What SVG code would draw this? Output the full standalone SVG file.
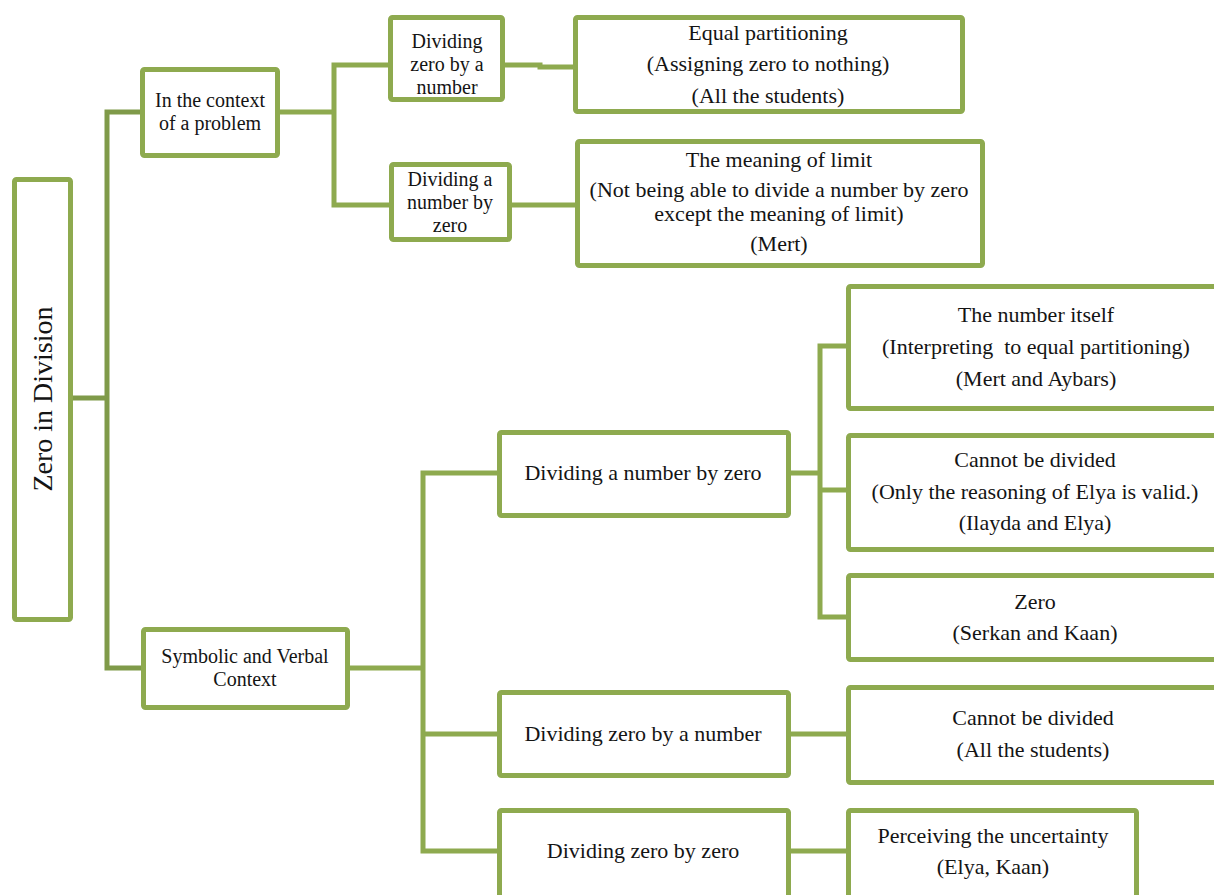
<svg xmlns="http://www.w3.org/2000/svg" width="1214" height="895" viewBox="0 0 1214 895">
  <style>
    .box { fill: #ffffff; stroke: #8eaa4f; stroke-width: 5; }
    .wire { fill: none; stroke: #8eaa4f; stroke-width: 5; stroke-linejoin: miter; }
    .trunk { fill: none; stroke: #7f9a49; stroke-width: 5; }
    text { font-family: "Liberation Serif", "Times New Roman", serif; font-size: 22px; fill: #141414; text-anchor: middle; }
    .root { font-size: 28px; }
    .tight { font-size: 20px; }
    .pre { white-space: pre; }
  </style>
  <rect width="1214" height="895" fill="#ffffff"/>

  <!-- connectors -->
  <g id="connectors">
    <path class="trunk" d="M73 398 H107 M140 112 H107 V668 H141"/>
    <path class="wire" d="M280 112 H334 M390 65 H334 V205 H389"/>
    <path class="wire" d="M505 65 H540 V67 H573"/>
    <path class="wire" d="M512 205 H575"/>
    <path class="wire" d="M350 668 H423 M497 473 H423 V851 H497 M423 734 H497"/>
    <path class="wire" d="M791 473 H820 M848 346 H820 V617 H848 M820 490 H848"/>
    <path class="wire" d="M791 734 H848"/>
    <path class="wire" d="M791 851 H848"/>
  </g>

  <!-- root -->
  <g id="root">
    <rect class="box" x="14.5" y="179.5" width="56" height="440" rx="2"/>
    <text class="root" transform="translate(52 399) rotate(-90)">Zero in Division</text>
  </g>

  <!-- problem context branch -->
  <g id="ctx-problem">
    <rect class="box" x="142.5" y="69.5" width="135" height="86" rx="2"/>
    <text class="tight" x="210" y="107">In the context</text>
    <text class="tight" x="210" y="130">of a problem</text>
  </g>
  <g id="ctx-zero-by-number">
    <rect class="box" x="390.5" y="17.5" width="112" height="82" rx="2"/>
    <text class="tight" x="447" y="48">Dividing</text>
    <text class="tight" x="447" y="71">zero by a</text>
    <text class="tight" x="447" y="94">number</text>
  </g>
  <g id="ctx-equal-partitioning">
    <rect class="box" x="575.5" y="17.5" width="387" height="94" rx="2"/>
    <text x="768" y="40">Equal partitioning</text>
    <text x="768" y="71">(Assigning zero to nothing)</text>
    <text x="768" y="103">(All the students)</text>
  </g>
  <g id="ctx-number-by-zero">
    <rect class="box" x="391.5" y="164.5" width="118" height="75" rx="2"/>
    <text class="tight" x="450" y="186">Dividing a</text>
    <text class="tight" x="450" y="209">number by</text>
    <text class="tight" x="450" y="232">zero</text>
  </g>
  <g id="ctx-limit">
    <rect class="box" x="577.5" y="141.5" width="405" height="124" rx="2"/>
    <text x="779" y="167">The meaning of limit</text>
    <text x="779" y="197">(Not being able to divide a number by zero</text>
    <text x="779" y="221">except the meaning of limit)</text>
    <text x="779" y="251">(Mert)</text>
  </g>

  <!-- symbolic and verbal branch -->
  <g id="sym-verbal">
    <rect class="box" x="143.5" y="629.5" width="204" height="78" rx="2"/>
    <text class="tight" x="245" y="663">Symbolic and Verbal</text>
    <text class="tight" x="245" y="686">Context</text>
  </g>
  <g id="sym-number-by-zero">
    <rect class="box" x="499.5" y="432.5" width="289" height="83" rx="2"/>
    <text x="643" y="480">Dividing a number by zero</text>
  </g>
  <g id="sym-number-itself">
    <rect class="box" x="848.5" y="286.5" width="400" height="122" rx="2"/>
    <text x="1036" y="322">The number itself</text>
    <text class="pre" x="1036" y="354">(Interpreting  to equal partitioning)</text>
    <text x="1036" y="386">(Mert and Aybars)</text>
  </g>
  <g id="sym-cannot-divide-a">
    <rect class="box" x="848.5" y="435.5" width="400" height="114" rx="2"/>
    <text x="1035" y="467">Cannot be divided</text>
    <text x="1035" y="499">(Only the reasoning of Elya is valid.)</text>
    <text x="1035" y="530">(Ilayda and Elya)</text>
  </g>
  <g id="sym-zero">
    <rect class="box" x="848.5" y="575.5" width="400" height="84" rx="2"/>
    <text x="1035" y="609">Zero</text>
    <text x="1035" y="640">(Serkan and Kaan)</text>
  </g>
  <g id="sym-zero-by-number">
    <rect class="box" x="499.5" y="692.5" width="289" height="83" rx="2"/>
    <text x="643" y="741">Dividing zero by a number</text>
  </g>
  <g id="sym-cannot-divide-b">
    <rect class="box" x="848.5" y="687.5" width="400" height="95" rx="2"/>
    <text x="1033" y="725">Cannot be divided</text>
    <text x="1033" y="757">(All the students)</text>
  </g>
  <g id="sym-zero-by-zero">
    <rect class="box" x="499.5" y="810.5" width="289" height="120" rx="2"/>
    <text x="643" y="858">Dividing zero by zero</text>
  </g>
  <g id="sym-uncertainty">
    <rect class="box" x="848.5" y="810.5" width="288" height="120" rx="2"/>
    <text x="993" y="843">Perceiving the uncertainty</text>
    <text x="993" y="874">(Elya, Kaan)</text>
  </g>
</svg>
